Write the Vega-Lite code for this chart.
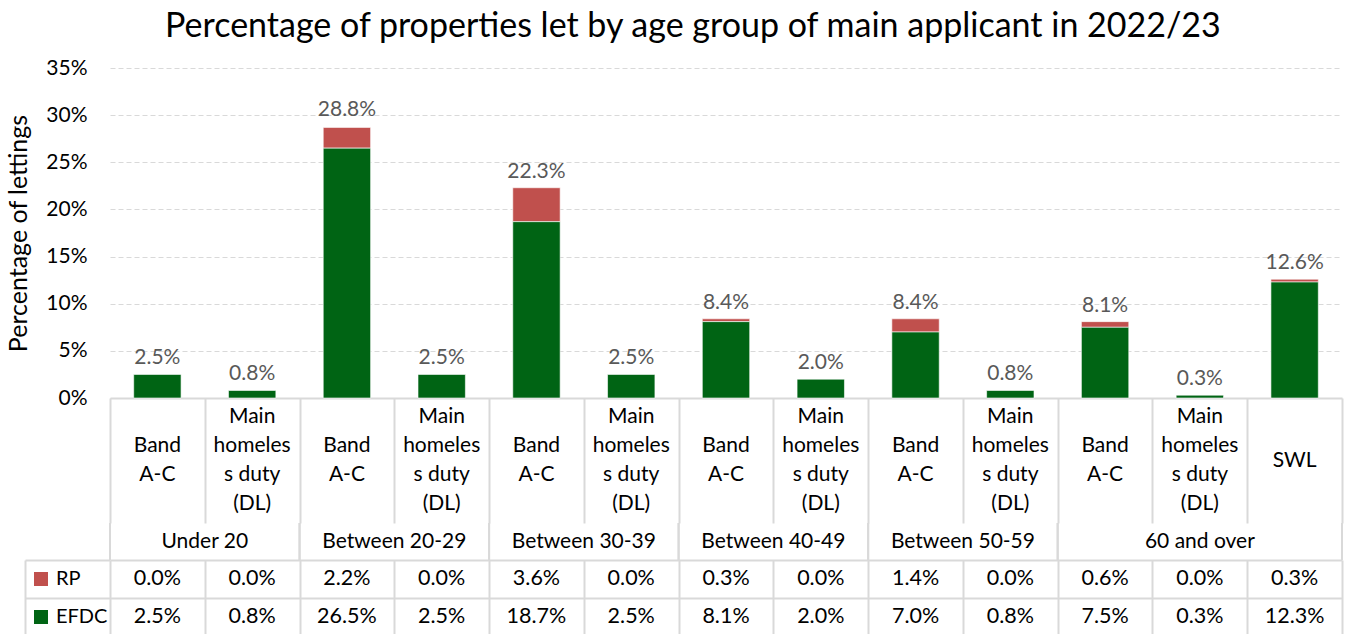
{
  "$schema": "https://vega.github.io/schema/vega-lite/v6.json",
  "padding": {"left": 6, "top": 10, "right": 4, "bottom": 0},
  "bounds": "flush",
  "spacing": 0,
  "config": {
    "font": "Lato",
    "view": {"stroke": null},
    "axis": {"labelFont": "Lato", "titleFont": "Lato"}
  },
  "title": {
    "text": "Percentage of properties let by age group of main applicant in 2022/23",
    "fontSize": 34, "fontWeight": "normal", "color": "black", "anchor": "middle", "offset": 13, "dx": 18
  },
  "datasets": {
    "bars": [
      {"cat": "Under 20 / Band A-C", "series": "RP", "value": 0.0},
      {"cat": "Under 20 / Main homeless duty (DL)", "series": "RP", "value": 0.0},
      {"cat": "Between 20-29 / Band A-C", "series": "RP", "value": 0.022},
      {"cat": "Between 20-29 / Main homeless duty (DL)", "series": "RP", "value": 0.0},
      {"cat": "Between 30-39 / Band A-C", "series": "RP", "value": 0.036},
      {"cat": "Between 30-39 / Main homeless duty (DL)", "series": "RP", "value": 0.0},
      {"cat": "Between 40-49 / Band A-C", "series": "RP", "value": 0.003},
      {"cat": "Between 40-49 / Main homeless duty (DL)", "series": "RP", "value": 0.0},
      {"cat": "Between 50-59 / Band A-C", "series": "RP", "value": 0.014},
      {"cat": "Between 50-59 / Main homeless duty (DL)", "series": "RP", "value": 0.0},
      {"cat": "60 and over / Band A-C", "series": "RP", "value": 0.006},
      {"cat": "60 and over / Main homeless duty (DL)", "series": "RP", "value": 0.0},
      {"cat": "60 and over / SWL", "series": "RP", "value": 0.003},
      {"cat": "Under 20 / Band A-C", "series": "EFDC", "value": 0.025},
      {"cat": "Under 20 / Main homeless duty (DL)", "series": "EFDC", "value": 0.008},
      {"cat": "Between 20-29 / Band A-C", "series": "EFDC", "value": 0.265},
      {"cat": "Between 20-29 / Main homeless duty (DL)", "series": "EFDC", "value": 0.025},
      {"cat": "Between 30-39 / Band A-C", "series": "EFDC", "value": 0.187},
      {"cat": "Between 30-39 / Main homeless duty (DL)", "series": "EFDC", "value": 0.025},
      {"cat": "Between 40-49 / Band A-C", "series": "EFDC", "value": 0.081},
      {"cat": "Between 40-49 / Main homeless duty (DL)", "series": "EFDC", "value": 0.020},
      {"cat": "Between 50-59 / Band A-C", "series": "EFDC", "value": 0.070},
      {"cat": "Between 50-59 / Main homeless duty (DL)", "series": "EFDC", "value": 0.008},
      {"cat": "60 and over / Band A-C", "series": "EFDC", "value": 0.075},
      {"cat": "60 and over / Main homeless duty (DL)", "series": "EFDC", "value": 0.003},
      {"cat": "60 and over / SWL", "series": "EFDC", "value": 0.123}
    ],
    "totals": [
      {"cat": "Under 20 / Band A-C", "total": 0.025},
      {"cat": "Under 20 / Main homeless duty (DL)", "total": 0.008},
      {"cat": "Between 20-29 / Band A-C", "total": 0.288},
      {"cat": "Between 20-29 / Main homeless duty (DL)", "total": 0.025},
      {"cat": "Between 30-39 / Band A-C", "total": 0.223},
      {"cat": "Between 30-39 / Main homeless duty (DL)", "total": 0.025},
      {"cat": "Between 40-49 / Band A-C", "total": 0.084},
      {"cat": "Between 40-49 / Main homeless duty (DL)", "total": 0.020},
      {"cat": "Between 50-59 / Band A-C", "total": 0.084},
      {"cat": "Between 50-59 / Main homeless duty (DL)", "total": 0.008},
      {"cat": "60 and over / Band A-C", "total": 0.081},
      {"cat": "60 and over / Main homeless duty (DL)", "total": 0.003},
      {"cat": "60 and over / SWL", "total": 0.126}
    ],
    "cats": [
      {"cat": "Under 20 / Band A-C", "sub": "Band\nA-C", "lines": 2},
      {"cat": "Under 20 / Main homeless duty (DL)", "sub": "Main\nhomeles\ns duty\n(DL)", "lines": 4},
      {"cat": "Between 20-29 / Band A-C", "sub": "Band\nA-C", "lines": 2},
      {"cat": "Between 20-29 / Main homeless duty (DL)", "sub": "Main\nhomeles\ns duty\n(DL)", "lines": 4},
      {"cat": "Between 30-39 / Band A-C", "sub": "Band\nA-C", "lines": 2},
      {"cat": "Between 30-39 / Main homeless duty (DL)", "sub": "Main\nhomeles\ns duty\n(DL)", "lines": 4},
      {"cat": "Between 40-49 / Band A-C", "sub": "Band\nA-C", "lines": 2},
      {"cat": "Between 40-49 / Main homeless duty (DL)", "sub": "Main\nhomeles\ns duty\n(DL)", "lines": 4},
      {"cat": "Between 50-59 / Band A-C", "sub": "Band\nA-C", "lines": 2},
      {"cat": "Between 50-59 / Main homeless duty (DL)", "sub": "Main\nhomeles\ns duty\n(DL)", "lines": 4},
      {"cat": "60 and over / Band A-C", "sub": "Band\nA-C", "lines": 2},
      {"cat": "60 and over / Main homeless duty (DL)", "sub": "Main\nhomeles\ns duty\n(DL)", "lines": 4},
      {"cat": "60 and over / SWL", "sub": "SWL", "lines": 1}
    ],
    "groups": [
      {"group": "Under 20", "first": "Under 20 / Band A-C", "mid": "Under 20 / Band A-C", "last": "Under 20 / Main homeless duty (DL)", "span": 2},
      {"group": "Between 20-29", "first": "Between 20-29 / Band A-C", "mid": "Between 20-29 / Band A-C", "last": "Between 20-29 / Main homeless duty (DL)", "span": 2},
      {"group": "Between 30-39", "first": "Between 30-39 / Band A-C", "mid": "Between 30-39 / Band A-C", "last": "Between 30-39 / Main homeless duty (DL)", "span": 2},
      {"group": "Between 40-49", "first": "Between 40-49 / Band A-C", "mid": "Between 40-49 / Band A-C", "last": "Between 40-49 / Main homeless duty (DL)", "span": 2},
      {"group": "Between 50-59", "first": "Between 50-59 / Band A-C", "mid": "Between 50-59 / Band A-C", "last": "Between 50-59 / Main homeless duty (DL)", "span": 2},
      {"group": "60 and over", "first": "60 and over / Band A-C", "mid": "60 and over / Main homeless duty (DL)", "last": "60 and over / SWL", "span": 3}
    ]
  },
  "vconcat": [
    {
      "width": 1232,
      "height": 330,
      "layer": [
        {
          "data": {"name": "bars"},
          "mark": {"type": "bar", "width": {"band": 0.5}, "stroke": "white", "strokeWidth": 0.6},
          "encoding": {
            "x": {
              "field": "cat", "type": "nominal",
              "scale": {"domain": ["Under 20 / Band A-C", "Under 20 / Main homeless duty (DL)", "Between 20-29 / Band A-C", "Between 20-29 / Main homeless duty (DL)", "Between 30-39 / Band A-C", "Between 30-39 / Main homeless duty (DL)", "Between 40-49 / Band A-C", "Between 40-49 / Main homeless duty (DL)", "Between 50-59 / Band A-C", "Between 50-59 / Main homeless duty (DL)", "60 and over / Band A-C", "60 and over / Main homeless duty (DL)", "60 and over / SWL"], "paddingInner": 0, "paddingOuter": 0},
              "axis": {"labels": false, "ticks": false, "domain": true, "domainColor": "#d9d9d9", "domainWidth": 2, "grid": false, "title": null}
            },
            "y": {
              "field": "value", "type": "quantitative", "stack": "zero",
              "scale": {"domain": [0, 0.35], "nice": false},
              "axis": {"values": [0, 0.05, 0.1, 0.15, 0.2, 0.25, 0.3, 0.35], "format": ".0%", "title": "Percentage of lettings", "grid": true, "gridDash": [5, 3], "gridColor": "#d9d9d9", "gridWidth": 1, "domain": false, "ticks": false, "labelPadding": 23, "labelFontSize": 21, "labelColor": "black", "titleFontSize": 25, "titleFontWeight": "normal", "titleColor": "black", "titlePadding": 14}
            },
            "color": {
              "field": "series", "type": "nominal",
              "scale": {"domain": ["RP", "EFDC"], "range": ["#c0504d", "#006414"]},
              "legend": {"orient": "none", "legendX": -79, "legendY": 501, "title": null, "direction": "vertical", "symbolType": "square", "symbolSize": 196, "symbolStrokeWidth": 0, "labelFontSize": 20, "labelColor": "black", "labelOffset": 5, "rowPadding": 18, "padding": 0}
            },
            "order": {"field": "series", "sort": "ascending"}
          }
        },
        {
          "data": {"name": "totals"},
          "mark": {"type": "text", "baseline": "alphabetic", "dy": -10, "fontSize": 21, "color": "#595959"},
          "encoding": {
            "x": {"field": "cat", "type": "nominal"},
            "y": {"field": "total", "type": "quantitative"},
            "text": {"field": "total", "type": "quantitative", "format": ".1%"}
          }
        }
      ]
    },
    {
      "width": 1232,
      "height": 125,
      "data": {"name": "cats"},
      "encoding": {
        "x": {
          "field": "cat", "type": "nominal",
          "scale": {"domain": ["Under 20 / Band A-C", "Under 20 / Main homeless duty (DL)", "Between 20-29 / Band A-C", "Between 20-29 / Main homeless duty (DL)", "Between 30-39 / Band A-C", "Between 30-39 / Main homeless duty (DL)", "Between 40-49 / Band A-C", "Between 40-49 / Main homeless duty (DL)", "Between 50-59 / Band A-C", "Between 50-59 / Main homeless duty (DL)", "60 and over / Band A-C", "60 and over / Main homeless duty (DL)", "60 and over / SWL"], "paddingInner": 0, "paddingOuter": 0},
          "axis": {"labels": false, "ticks": false, "domain": false, "grid": true, "tickBand": "extent", "gridColor": "#d9d9d9", "gridWidth": 2, "title": null}
        },
        "text": {"field": "sub", "type": "nominal"}
      },
      "layer": [
        {
          "transform": [{"filter": "datum.lines == 4"}],
          "mark": {"type": "text", "lineBreak": "\n", "lineHeight": 29.3, "fontSize": 21, "baseline": "middle", "color": "black", "dy": -44}
        },
        {
          "transform": [{"filter": "datum.lines == 2"}],
          "mark": {"type": "text", "lineBreak": "\n", "lineHeight": 29.3, "fontSize": 21, "baseline": "middle", "color": "black", "dy": -14.7}
        },
        {
          "transform": [{"filter": "datum.lines == 1"}],
          "mark": {"type": "text", "lineBreak": "\n", "lineHeight": 29.3, "fontSize": 21, "baseline": "middle", "color": "black"}
        }
      ]
    },
    {
      "width": 1232,
      "height": 37,
      "data": {"name": "groups"},
      "layer": [
        {
          "mark": {"type": "rule", "color": "#d9d9d9", "strokeWidth": 2},
          "encoding": {
            "x": {
              "field": "first", "type": "nominal", "bandPosition": 0,
              "scale": {"domain": ["Under 20 / Band A-C", "Under 20 / Main homeless duty (DL)", "Between 20-29 / Band A-C", "Between 20-29 / Main homeless duty (DL)", "Between 30-39 / Band A-C", "Between 30-39 / Main homeless duty (DL)", "Between 40-49 / Band A-C", "Between 40-49 / Main homeless duty (DL)", "Between 50-59 / Band A-C", "Between 50-59 / Main homeless duty (DL)", "60 and over / Band A-C", "60 and over / Main homeless duty (DL)", "60 and over / SWL"], "paddingInner": 0, "paddingOuter": 0},
              "axis": null
            }
          }
        },
        {
          "mark": {"type": "rule", "color": "#d9d9d9", "strokeWidth": 2},
          "encoding": {
            "x": {"field": "last", "type": "nominal", "bandPosition": 1}
          }
        },
        {
          "transform": [{"filter": "datum.span == 2"}],
          "mark": {"type": "text", "fontSize": 21, "baseline": "middle", "color": "black"},
          "encoding": {
            "x": {"field": "first", "type": "nominal", "bandPosition": 1},
            "text": {"field": "group", "type": "nominal"}
          }
        },
        {
          "transform": [{"filter": "datum.span == 3"}],
          "mark": {"type": "text", "fontSize": 21, "baseline": "middle", "color": "black"},
          "encoding": {
            "x": {"field": "mid", "type": "nominal", "bandPosition": 0.5},
            "text": {"field": "group", "type": "nominal"}
          }
        }
      ]
    },
    {
      "width": 1232,
      "height": 76,
      "data": {"name": "bars"},
      "mark": {"type": "text", "fontSize": 21.5, "baseline": "middle", "color": "black"},
      "encoding": {
        "x": {
          "field": "cat", "type": "nominal",
          "scale": {"domain": ["Under 20 / Band A-C", "Under 20 / Main homeless duty (DL)", "Between 20-29 / Band A-C", "Between 20-29 / Main homeless duty (DL)", "Between 30-39 / Band A-C", "Between 30-39 / Main homeless duty (DL)", "Between 40-49 / Band A-C", "Between 40-49 / Main homeless duty (DL)", "Between 50-59 / Band A-C", "Between 50-59 / Main homeless duty (DL)", "60 and over / Band A-C", "60 and over / Main homeless duty (DL)", "60 and over / SWL"], "paddingInner": 0, "paddingOuter": 0},
          "axis": {"labels": false, "ticks": false, "domain": false, "grid": true, "tickBand": "extent", "gridColor": "#d9d9d9", "gridWidth": 2, "title": null}
        },
        "y": {
          "field": "series", "type": "nominal",
          "scale": {"domain": ["RP", "EFDC"], "paddingInner": 0, "paddingOuter": 0},
          "axis": {"labels": false, "title": null, "grid": true, "tickBand": "extent", "gridColor": "#d9d9d9", "gridWidth": 2, "domain": true, "domainColor": "#d9d9d9", "domainWidth": 2, "offset": 85, "ticks": true, "tickSize": -85, "tickColor": "#d9d9d9", "tickWidth": 2}
        },
        "text": {"field": "value", "type": "quantitative", "format": ".1%"}
      }
    }
  ]
}
